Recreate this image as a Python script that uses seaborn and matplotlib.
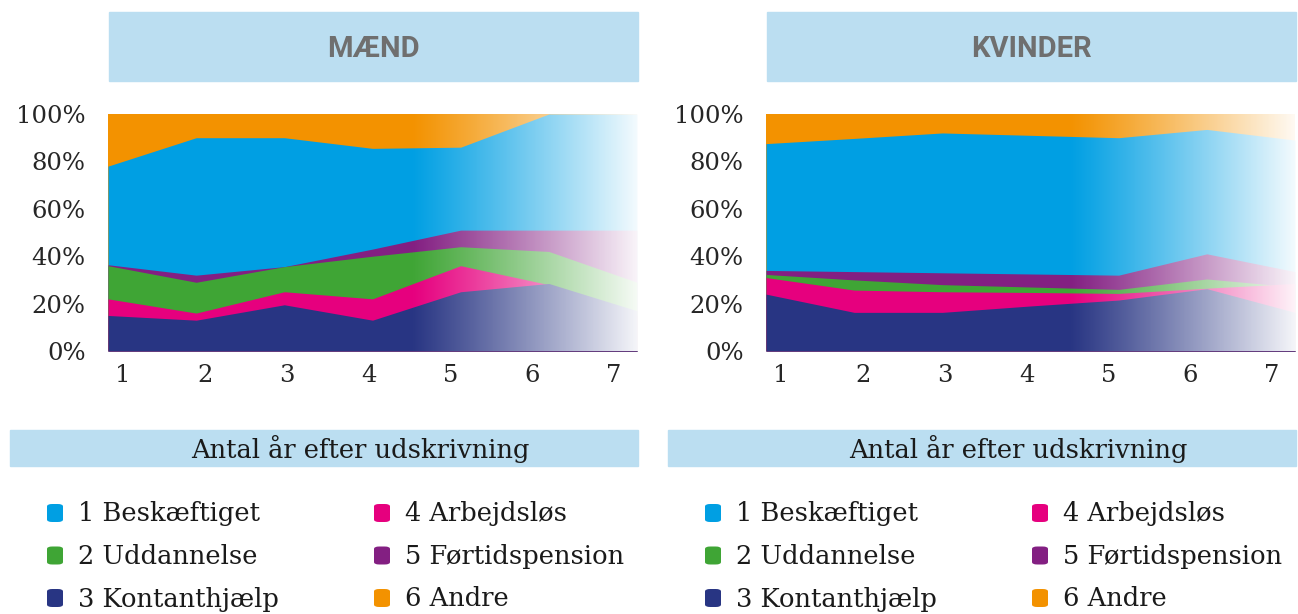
import numpy as np
import matplotlib
matplotlib.use("Agg")
import matplotlib.pyplot as plt
from matplotlib.patches import FancyBboxPatch, Rectangle
import seaborn as sns

sns.set_theme(style="white")
plt.rcParams['font.family'] = ['DejaVu Serif']

# år efter udskrivning
years = [1, 2, 3, 4, 5, 6, 7]
tick_labels = ['1', '2', '3', '4', '5', '6', '7']

# kumulerede niveauer (top af hvert felt, %), læst af figuren
maend_andre = [100, 100, 100, 100, 100, 100, 100]
maend_besk = [78, 90, 90, 85.5, 86, 100, 100]
maend_fortid = [36.4, 32, 35.6, 43, 51, 51, 51]
maend_udd = [36, 29, 35.6, 40, 44, 42, 29]
maend_arb = [22, 16, 25, 22, 36, 28, 15]
maend_kont = [15, 13, 19.5, 13, 25, 28.5, 17]

kvinder_andre = [100, 100, 100, 100, 100, 100, 100]
kvinder_besk = [87.5, 89.7, 92, 91, 90, 93.5, 89]
kvinder_fortid = [34, 33.5, 33, 32.5, 32, 41, 33.5]
kvinder_udd = [32.3, 30, 28, 27, 26, 30.4, 27]
kvinder_arb = [31, 25.7, 25, 24.7, 24.3, 26.5, 28.5]
kvinder_kont = [24, 16.3, 16.3, 19, 21.5, 26.3, 16.3]

legend_labels = ['1 Beskæftiget', '2 Uddannelse', '3 Kontanthjælp',
                 '4 Arbejdsløs', '5 Førtidspension', '6 Andre']
legend_colors = ['#009FE3', '#3FA535', '#283583', '#E6007E', '#831F82', '#F39200']

# tegnerækkefølge: bagerst først
draw_colors = ['#F39200', '#009FE3', '#831F82', '#3FA535', '#E6007E', '#283583']

banner = '#BBDEF1'
W, H = 1298, 614

fig = plt.figure(figsize=(W / 100, H / 100), dpi=100)


def fx(px):
    return px / W


def fy(py):
    return 1 - py / H


def panel(x0, title, series):
    ax = fig.add_axes([fx(x0), fy(351), fx(529), 237 / H])
    for vals, col in zip(series, draw_colors):
        ax.fill_between(years, 0, vals, color=col, linewidth=0)
    # hvid udtoning mod højre
    ramp = np.linspace(0, 1, 256)
    grad = np.ones((1, 256, 4))
    grad[0, :, 3] = 0.96 * ramp ** 1.1
    ax.imshow(grad, extent=[4.42, 7, 0, 100], aspect='auto', zorder=5,
              interpolation='bilinear')
    ax.set_xlim(1, 7)
    ax.set_ylim(0, 100)
    ax.set_yticks([0, 20, 40, 60, 80, 100])
    ax.set_yticklabels([f'{v}%' for v in [0, 20, 40, 60, 80, 100]], fontsize=17.5)
    ax.set_xticks(np.linspace(1.17, 6.74, 7))
    ax.set_xticklabels(tick_labels, fontsize=17.5)
    ax.tick_params(axis='y', length=0, pad=16)
    ax.tick_params(axis='x', length=0, pad=9)
    sns.despine(ax=ax, left=True, bottom=True)

    # titelbanner
    fig.patches.append(Rectangle((fx(x0 + 1), fy(81)), fx(529), 69 / H,
                                 transform=fig.transFigure, color=banner, zorder=0))
    fig.text(fx(x0 + 265), fy(49), title, ha='center', va='center', fontsize=21,
             fontweight='bold', color='#6F6F6F', family='Roboto')

    # aksetitel-banner
    fig.patches.append(Rectangle((fx(x0 - 98), fy(466)), fx(628), 36 / H,
                                 transform=fig.transFigure, color=banner, zorder=0))
    fig.text(fx(x0 + 252), fy(449), 'Antal år efter udskrivning', ha='center',
             va='center', fontsize=18.5, color='#1a1a1a')

    # signaturforklaring
    for i, (lab, col) in enumerate(zip(legend_labels, legend_colors)):
        cx = x0 - 53 + (i // 3) * 327
        cy = 513 + (i % 3) * 42.5
        fig.patches.append(FancyBboxPatch((fx(cx - 8), fy(cy + 9)), fx(16), 18 / H,
                                          boxstyle='round,pad=0,rounding_size=0.004',
                                          transform=fig.transFigure, color=col,
                                          linewidth=0))
        fig.text(fx(cx + 23), fy(cy + 1), lab, ha='left', va='center', fontsize=18.5,
                 color='#1a1a1a')
    return ax


panel(108, 'MÆND', [maend_andre, maend_besk, maend_fortid, maend_udd, maend_arb, maend_kont])
panel(766, 'KVINDER', [kvinder_andre, kvinder_besk, kvinder_fortid, kvinder_udd,
                       kvinder_arb, kvinder_kont])

fig.savefig('out.png', dpi=100)
